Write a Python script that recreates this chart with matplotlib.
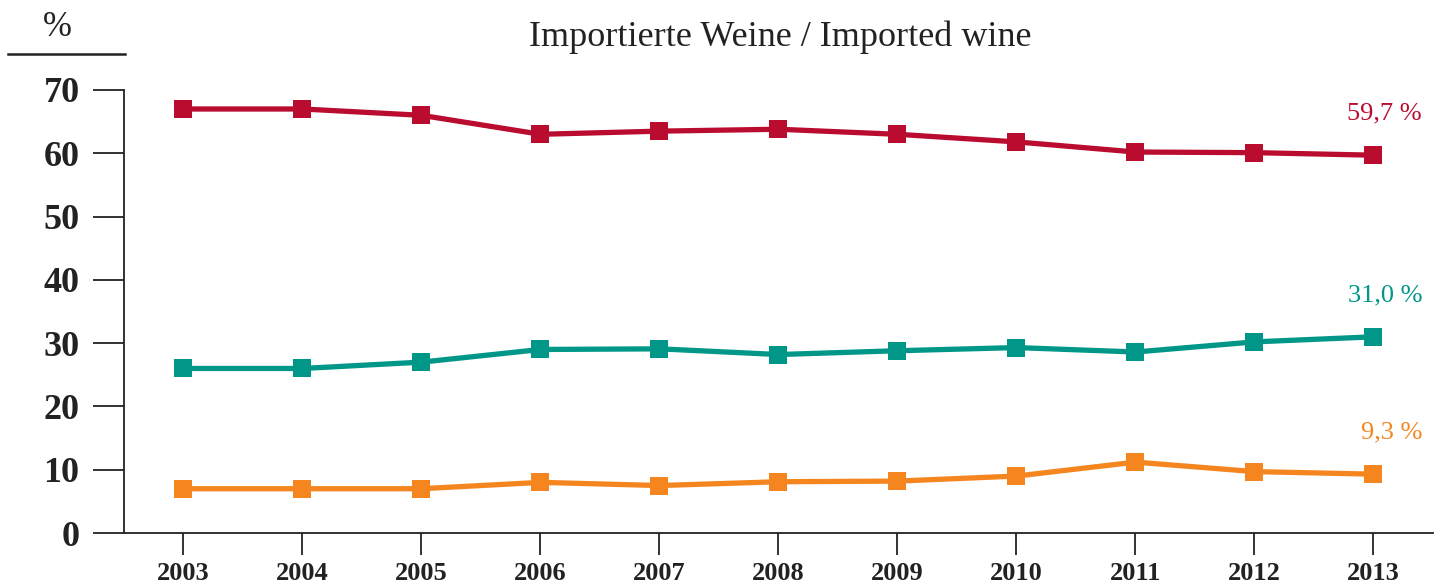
import matplotlib
matplotlib.use('Agg')
import matplotlib.pyplot as plt
from matplotlib.lines import Line2D

years = [2003, 2004, 2005, 2006, 2007, 2008, 2009, 2010, 2011, 2012, 2013]
red_vals = [67.0, 67.0, 66.0, 63.0, 63.5, 63.8, 63.0, 61.8, 60.2, 60.1, 59.7]
teal_vals = [26.0, 26.0, 27.0, 29.0, 29.1, 28.2, 28.8, 29.3, 28.6, 30.2, 31.0]
orange_vals = [7.0, 7.0, 7.0, 8.0, 7.5, 8.1, 8.2, 9.0, 11.2, 9.7, 9.3]
end_labels = ['59,7 %', '31,0 %', '9,3 %']
yticks = [0, 10, 20, 30, 40, 50, 60, 70]

red = '#BA0C2F'
teal = '#009688'
orange = '#F5861F'

plt.rcParams['font.family'] = ['Liberation Serif', 'DejaVu Serif']

fig = plt.figure(figsize=(14.42, 5.87), dpi=100)
ax = fig.add_axes([124 / 1442, 1 - 533 / 587, (1433 - 124) / 1442, (533 - 90) / 587])

for vals, col in [(red_vals, red), (teal_vals, teal), (orange_vals, orange)]:
    ax.plot(years, vals, color=col, linewidth=3.8, marker='s', markersize=13,
            markeredgewidth=0, clip_on=False, zorder=3)

for vals, col, lab in zip([red_vals, teal_vals, orange_vals], [red, teal, orange], end_labels):
    ax.annotate(lab, (years[-1], vals[-1]), xytext=(35, 30), textcoords='offset points',
                ha='right', va='center', color=col, fontsize=19)

ax.set_xlim(2002.5, 2013.5)
ax.set_ylim(0, 70)
ax.set_xticks(years)
ax.set_xticklabels([str(y) for y in years], fontsize=19, fontweight='bold', color='#222222')
ax.set_yticks(yticks)
ax.set_yticklabels([str(v) for v in yticks], fontsize=26, fontweight='bold', color='#222222')
ax.tick_params(axis='y', length=22, width=1.3, pad=10, color='#222222')
ax.tick_params(axis='x', length=16, width=1.3, pad=5, color='#222222')

for s in ['top', 'right']:
    ax.spines[s].set_visible(False)
for s in ['left', 'bottom']:
    ax.spines[s].set_linewidth(1.3)
    ax.spines[s].set_color('#222222')

fig.text(780 / 1442, 1 - 37 / 587, 'Importierte Weine / Imported wine', ha='center', va='center',
         fontsize=26, color='#222222')
fig.text(57 / 1442, 1 - 28 / 587, '%', ha='center', va='center', fontsize=25, color='#222222')
fig.add_artist(Line2D([8 / 1442, 125 / 1442], [1 - 54 / 587, 1 - 54 / 587], color='#222222',
                      linewidth=1.8, transform=fig.transFigure))

fig.savefig('out.png', dpi=100)
